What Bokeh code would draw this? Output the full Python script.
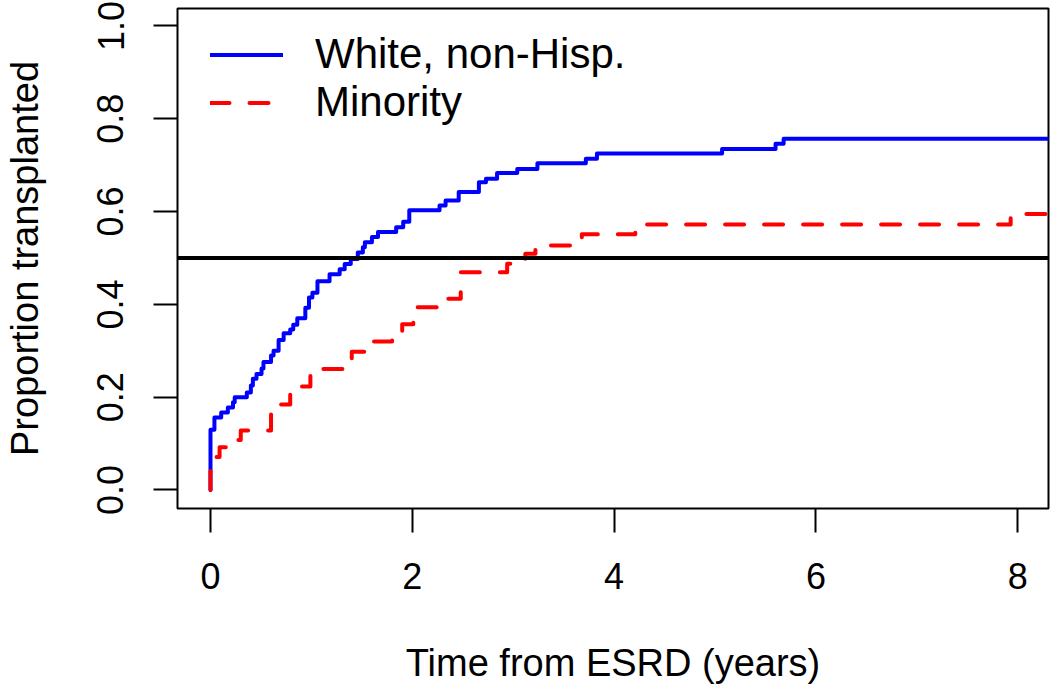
from bokeh.plotting import figure
from bokeh.models import Range1d, Span, Legend, LegendItem, FixedTicker, NumeralTickFormatter
from bokeh.embed import file_html
from bokeh.resources import INLINE

# ---- data ----
series_names = ["White, non-Hisp.", "Minority"]

white_time = [0.0, 0.0, 0.039, 0.106, 0.172, 0.223, 0.24, 0.36, 0.40, 0.42, 0.456, 0.506,
              0.525, 0.60, 0.625, 0.675, 0.725, 0.79, 0.82, 0.86, 0.94, 0.976, 1.01,
              1.06, 1.18, 1.28, 1.33, 1.39, 1.46, 1.51, 1.53, 1.60, 1.66, 1.84, 1.91,
              1.97, 2.27, 2.33, 2.46, 2.66, 2.73, 2.84, 3.04, 3.24, 3.72, 3.83, 5.07,
              5.60, 5.68, 8.40]
white_prop = [0.0, 0.130, 0.156, 0.167, 0.178, 0.189, 0.200, 0.210, 0.225, 0.240, 0.250,
              0.262, 0.276, 0.290, 0.300, 0.323, 0.338, 0.346, 0.356, 0.370, 0.393,
              0.415, 0.425, 0.450, 0.465, 0.476, 0.487, 0.498, 0.512, 0.523, 0.534,
              0.545, 0.556, 0.566, 0.578, 0.603, 0.613, 0.624, 0.642, 0.663, 0.671,
              0.683, 0.692, 0.704, 0.714, 0.725, 0.735, 0.746, 0.757, 0.757]

minority_time = [0.0, 0.0, 0.09, 0.21, 0.30, 0.60, 0.79, 0.99, 1.40, 1.58, 1.80, 1.90,
                 2.01, 2.25, 2.48, 2.94, 3.12, 3.22, 3.68, 4.21, 7.93, 8.40]
minority_prop = [0.0, 0.071, 0.092, 0.108, 0.128, 0.184, 0.223, 0.261, 0.298, 0.320,
                 0.337, 0.357, 0.394, 0.412, 0.469, 0.4875, 0.509, 0.527, 0.551, 0.572,
                 0.595, 0.595]

x_ticks = [0, 2, 4, 6, 8]
y_ticks = [0.0, 0.2, 0.4, 0.6, 0.8, 1.0]
reference_level = 0.5

x_title = "Time from ESRD (years)"
y_title = "Proportion transplanted"

FONT = "Liberation Sans"

p = figure(width=1050, height=695, output_backend="svg", toolbar_location=None,
           x_range=Range1d(-0.327, 8.305), y_range=Range1d(-0.0399, 1.0377),
           min_border_left=177, min_border_right=2, min_border_top=8, min_border_bottom=187)

p.background_fill_color = "white"
p.border_fill_color = "white"
p.outline_line_color = "black"
p.outline_line_width = 2
p.xgrid.visible = False
p.ygrid.visible = False

r_white = p.step(white_time, white_prop, mode="after", line_color="#0000FF", line_width=4,
                 line_join="round", line_cap="round")
r_min = p.step(minority_time, minority_prop, mode="after", line_color="#FF0000", line_width=4,
               line_dash="19 20", line_cap="round", line_join="round")

p.add_layout(Span(location=reference_level, dimension="width", line_color="black", line_width=4))

for ax in (p.xaxis[0], p.yaxis[0]):
    ax.axis_line_color = None
    ax.major_tick_line_color = "black"
    ax.major_tick_line_width = 2
    ax.major_tick_out = 24
    ax.major_tick_in = 0
    ax.minor_tick_line_color = None
    ax.major_label_text_font = FONT
    ax.major_label_text_font_size = "36px"
    ax.major_label_text_color = "black"
    ax.major_label_standoff = 30
    ax.axis_label_text_font = FONT
    ax.axis_label_text_font_size = "38px"
    ax.axis_label_text_font_style = "normal"
    ax.axis_label_text_color = "black"

p.xaxis[0].ticker = FixedTicker(ticks=x_ticks)
p.xaxis[0].formatter = NumeralTickFormatter(format="0")
p.xaxis[0].axis_label = x_title
p.xaxis[0].axis_label_standoff = 50

p.yaxis[0].ticker = FixedTicker(ticks=y_ticks)
p.yaxis[0].formatter = NumeralTickFormatter(format="0.0")
p.yaxis[0].major_label_orientation = "vertical"
p.yaxis[0].axis_label = y_title
p.yaxis[0].axis_label_standoff = 49

legend = Legend(items=[LegendItem(label=series_names[0], renderers=[r_white]),
                       LegendItem(label=series_names[1], renderers=[r_min])],
                location=(33, 382), orientation="vertical",
                border_line_color=None, background_fill_alpha=0,
                padding=0, margin=0, spacing=0,
                glyph_width=73, glyph_height=47, label_height=47,
                label_standoff=32, label_text_font=FONT, label_text_font_size="42px",
                label_text_color="black")
p.add_layout(legend)

open("out.html", "w").write(file_html(p, INLINE))
